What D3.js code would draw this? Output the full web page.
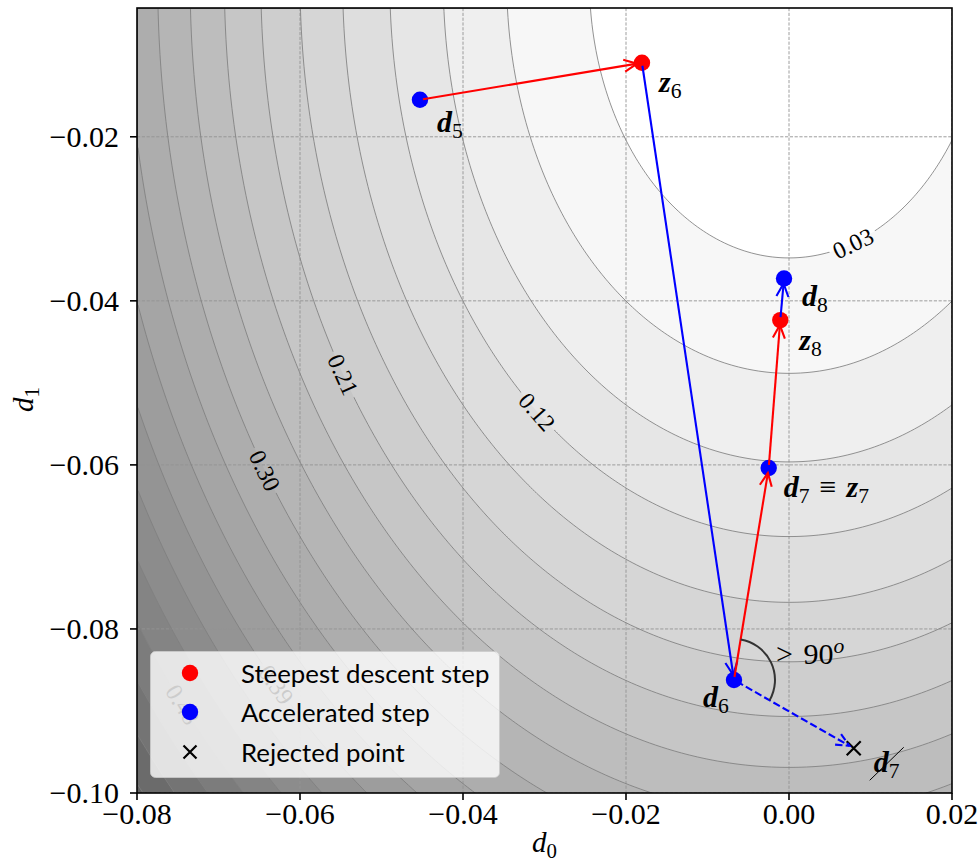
<!DOCTYPE html>
<html><head><meta charset="utf-8">
<script src="https://cdn.jsdelivr.net/npm/d3@7"></script>
<style>body{margin:0;background:#fff}svg{display:block}</style>
</head><body><svg id="chart" width="980" height="864"></svg>
<script>
// ---------------- data ----------------
const xTicks = [-0.08, -0.06, -0.04, -0.02, 0.00, 0.02];
const yTicks = [-0.10, -0.08, -0.06, -0.04, -0.02];
const xDomain = [-0.08, 0.02];
const yDomain = [-0.1, -0.0043];
// objective: f(d) = A*(d0-C0)^2 + B*(d1-C1)^2
const fA = 50, fB = 26, fC0 = 0.0, fC1 = -0.0008;
const levelStep = 0.03;
const levels = d3.range(1, 21).map(k => +(k * levelStep).toFixed(2));
const labelLevels = [0.03, 0.12, 0.21, 0.30, 0.39, 0.48];
const labelD0 = [0.00785, -0.0309, -0.0547, -0.0643, -0.0629, -0.0744];

const pointNames = ["d5", "z6", "d6", "d7", "z8", "d8", "rej"];
const pointD0 = [-0.04528, -0.01804, -0.00675, -0.00249, -0.00107, -0.00061, 0.00794];
const pointD1 = [-0.01549, -0.01098, -0.08622, -0.06037, -0.04235, -0.03728, -0.09455];
const pointKind = ["acc", "sd", "acc", "acc", "sd", "acc", "rej"];
const stepFrom = ["d5", "z6", "d6", "d7", "z8", "d6"];
const stepTo   = ["z6", "d6", "d7", "z8", "d8", "rej"];
const stepKind = ["sd", "acc", "sd", "sd", "acc", "rej"];
const legendLabels = ["Steepest descent step", "Accelerated step", "Rejected point"];

// ---------------- layout ----------------
const L = 137, R = 952, T = 8, B = 793;
const svg = d3.select("#chart");
const x = d3.scaleLinear().domain(xDomain).range([L, R]);
const y = d3.scaleLinear().domain(yDomain).range([B, T]);
const f = (a, b) => fA * (a - fC0) ** 2 + fB * (b - fC1) ** 2;
const serif = "'Liberation Serif', 'DejaVu Serif', serif";
const sans = "Lato, 'Open Sans', sans-serif";
const colors = {sd: "#ff0000", acc: "#0000ff", rej: "#0000ff"};

const defs = svg.append("defs");
defs.append("clipPath").attr("id", "plotclip")
  .append("rect").attr("x", L).attr("y", T).attr("width", R - L).attr("height", B - T);

const plot = svg.append("g").attr("clip-path", "url(#plotclip)");

// filled contours
const cw = 2;
const nx = Math.ceil((R - L) / cw), ny = Math.ceil((B - T) / cw);
const values = new Float64Array(nx * ny);
for (let j = 0; j < ny; j++) for (let i = 0; i < nx; i++) {
  values[j * nx + i] = f(x.invert(L + (i + 0.5) * cw), y.invert(T + (j + 0.5) * cw));
}
const contours = d3.contours().size([nx, ny]).thresholds(levels)(values);
const gpath = d3.geoPath(d3.geoTransform({
  point(px, py) { this.stream.point(L + px * cw, T + py * cw); }
}));
const shade = k => { const v = Math.round(255 - k * 8.2); return `rgb(${v},${v},${v})`; };
plot.append("rect").attr("x", L).attr("y", T).attr("width", R - L).attr("height", B - T).attr("fill", "#fff");
plot.append("g").selectAll("path").data(contours).join("path")
  .attr("d", gpath).attr("fill", (d, i) => shade(i + 1)).attr("stroke", "none");

// grid
const grid = plot.append("g").attr("stroke", "#939393").attr("stroke-width", 0.9).attr("stroke-dasharray", "3.2,1.6");
grid.selectAll(".gx").data(xTicks).join("line").attr("x1", d => x(d)).attr("x2", d => x(d)).attr("y1", T).attr("y2", B);
grid.selectAll(".gy").data(yTicks).join("line").attr("y1", d => y(d)).attr("y2", d => y(d)).attr("x1", L).attr("x2", R);

// contour labels geometry
const labelInfo = labelLevels.map((lv, i) => {
  const d0 = labelD0[i];
  const d1 = fC1 - Math.sqrt(Math.max(0, (lv - fA * (d0 - fC0) ** 2) / fB));
  const px = x(d0), py = y(d1);
  const sx = (x(1) - x(0)), sy = (y(1) - y(0));
  const gx = 2 * fA * (d0 - fC0) / sx, gy = 2 * fB * (d1 - fC1) / sy;
  let ang = Math.atan2(-gx, gy) * 180 / Math.PI;
  if (ang > 90) ang -= 180; if (ang < -90) ang += 180;
  return {lv, px, py, ang};
});
const mask = defs.append("mask").attr("id", "lblmask").attr("maskUnits", "userSpaceOnUse")
  .attr("x", 0).attr("y", 0).attr("width", 980).attr("height", 864);
mask.append("rect").attr("x", 0).attr("y", 0).attr("width", 980).attr("height", 864).attr("fill", "#fff");
mask.selectAll(".m").data(labelInfo).join("rect")
  .attr("x", -25).attr("y", -11).attr("width", 50).attr("height", 22).attr("fill", "#000")
  .attr("transform", d => `translate(${d.px},${d.py}) rotate(${d.ang})`);

plot.append("g").attr("mask", "url(#lblmask)").selectAll("path").data(contours).join("path")
  .attr("d", gpath).attr("fill", "none").attr("stroke", "#808080").attr("stroke-width", 0.85);

plot.append("g").selectAll("text").data(labelInfo).join("text")
  .attr("transform", d => `translate(${d.px},${d.py}) rotate(${d.ang})`)
  .attr("text-anchor", "middle").attr("dy", "0.35em")
  .attr("font-family", serif).attr("font-size", 24).attr("fill", "#000")
  .text(d => d.lv.toFixed(2));

// points
const P = {};
pointNames.forEach((n, i) => P[n] = [x(pointD0[i]), y(pointD1[i])]);
const dots = svg.append("g");
pointNames.forEach((n, i) => {
  if (pointKind[i] === "rej") {
    const [cx, cy] = P[n], s = 7;
    dots.append("path").attr("d", `M${cx - s},${cy - s}L${cx + s},${cy + s}M${cx - s},${cy + s}L${cx + s},${cy - s}`)
      .attr("stroke", "#000").attr("stroke-width", 2.2).attr("fill", "none");
  } else {
    dots.append("circle").attr("cx", P[n][0]).attr("cy", P[n][1]).attr("r", 8.2)
      .attr("fill", colors[pointKind[i]]);
  }
});

// arrows
const arrows = svg.append("g").attr("fill", "none").attr("stroke-width", 2.1);
stepFrom.forEach((a, i) => {
  const p0 = P[a], p1 = P[stepTo[i]], kind = stepKind[i];
  const dx = p1[0] - p0[0], dy = p1[1] - p0[1], len = Math.hypot(dx, dy);
  const ux = dx / len, uy = dy / len, nxv = -uy, nyv = ux;
  const sA = 3, sB = 5, hl = 13, hw = 6;
  const s = [p0[0] + ux * sA, p0[1] + uy * sA], e = [p1[0] - ux * sB, p1[1] - uy * sB];
  const dash = kind === "rej" ? "7.4,3.2" : null;
  arrows.append("line").attr("x1", s[0]).attr("y1", s[1]).attr("x2", e[0]).attr("y2", e[1])
    .attr("stroke", colors[kind]).attr("stroke-dasharray", dash);
  arrows.append("path")
    .attr("d", `M${e[0] - ux * hl + nxv * hw},${e[1] - uy * hl + nyv * hw}L${e[0]},${e[1]}L${e[0] - ux * hl - nxv * hw},${e[1] - uy * hl - nyv * hw}`)
    .attr("stroke", colors[kind]).attr("stroke-dasharray", dash);
});

// angle arc at d6
{
  const c = P.d6, r = 41;
  const a0 = Math.atan2(P.d7[1] - c[1], P.d7[0] - c[0]);
  const a1 = Math.atan2(P.rej[1] - c[1], P.rej[0] - c[0]);
  const arcP = d3.path();
  arcP.arc(c[0], c[1], r, a0, a1, false);
  svg.append("path").attr("d", arcP.toString()).attr("fill", "none").attr("stroke", "#333").attr("stroke-width", 2);
}

// math text helper
function mathText(g, tx, ty, parts, size) {
  const t = g.append("text").attr("x", tx).attr("y", ty).attr("font-family", serif).attr("font-size", size).attr("fill", "#000");
  let shift = 0;
  parts.forEach(p => {
    const sp = t.append("tspan").text(p.t);
    let target = 0, fs = size;
    if (p.sub) { target = size * 0.2; fs = size * 0.72; }
    if (p.sup) { target = -size * 0.38; fs = size * 0.72; }
    sp.attr("font-size", fs).attr("dy", target - shift);
    shift = target;
    if (p.bold) sp.attr("font-weight", "bold");
    if (p.italic) sp.attr("font-style", "italic");
    if (p.dx) sp.attr("dx", p.dx);
  });
  return t;
}
const ann = svg.append("g");
const ms = 30;
const bd = s => ({t: s, bold: true, italic: true});
const sub = s => ({t: s, sub: true});
mathText(ann, P.d5[0] + 17, P.d5[1] + 32, [bd("d"), sub("5")], ms);
mathText(ann, P.z6[0] + 17, P.z6[1] + 29, [bd("z"), sub("6")], ms);
mathText(ann, P.d6[0] - 31, P.d6[1] + 27, [bd("d"), sub("6")], ms);
mathText(ann, P.d7[0] + 15, P.d7[1] + 29, [bd("d"), sub("7"), {t: "\u2009\u2261\u2009", dx: 4}, {t: "z", bold: true, italic: true, dx: 4}, sub("7")], ms);
mathText(ann, P.z8[0] + 19, P.z8[1] + 30, [bd("z"), sub("8")], ms);
mathText(ann, P.d8[0] + 18, P.d8[1] + 27, [bd("d"), sub("8")], ms);
mathText(ann, P.rej[0] + 20, P.rej[1] + 24, [bd("d"), sub("7")], ms);
ann.append("line").attr("x1", P.rej[0] + 16).attr("y1", P.rej[1] + 32).attr("x2", P.rej[0] + 50).attr("y2", P.rej[1] - 1)
  .attr("stroke", "#000").attr("stroke-width", 1);
mathText(ann, P.d6[0] + 42, P.d6[1] - 16, [{t: ">"}, {t: " 90", dx: 3}, {t: "o", sup: true, italic: true}], ms);

// legend
const lg = svg.append("g");
lg.append("rect").attr("x", 150.5).attr("y", 651.5).attr("width", 349).attr("height", 126).attr("rx", 5)
  .attr("fill", "rgba(255,255,255,0.8)").attr("stroke", "rgba(204,204,204,0.8)").attr("stroke-width", 1);
const legY = [673, 712, 752];
const legKinds = ["sd", "acc", "rej"];
legKinds.forEach((k, i) => {
  if (k === "rej") {
    const cx = 190, cy = legY[i], s = 6.5;
    lg.append("path").attr("d", `M${cx - s},${cy - s}L${cx + s},${cy + s}M${cx - s},${cy + s}L${cx + s},${cy - s}`)
      .attr("stroke", "#000").attr("stroke-width", 2.2);
  } else {
    lg.append("circle").attr("cx", 190).attr("cy", legY[i]).attr("r", 8.2).attr("fill", colors[k]);
  }
  lg.append("text").attr("x", 241).attr("y", legY[i] + 10).attr("font-family", sans).attr("font-size", 25.8)
    .attr("fill", "#000").text(legendLabels[i]);
});

// axes frame + ticks
const ax = svg.append("g");
ax.append("rect").attr("x", L).attr("y", T).attr("width", R - L).attr("height", B - T)
  .attr("fill", "none").attr("stroke", "#000").attr("stroke-width", 1.6);
const fmt = v => (v < 0 ? "\u2212" : "") + Math.abs(v).toFixed(2);
xTicks.forEach(v => {
  ax.append("line").attr("x1", x(v)).attr("x2", x(v)).attr("y1", B).attr("y2", B + 7).attr("stroke", "#000").attr("stroke-width", 1.6);
  ax.append("text").attr("x", x(v)).attr("y", B + 31).attr("text-anchor", "middle")
    .attr("font-family", serif).attr("font-size", 30).text(fmt(v));
});
yTicks.forEach(v => {
  ax.append("line").attr("x1", L - 7).attr("x2", L).attr("y1", y(v)).attr("y2", y(v)).attr("stroke", "#000").attr("stroke-width", 1.6);
  ax.append("text").attr("x", L - 18).attr("y", y(v) + 10).attr("text-anchor", "end")
    .attr("font-family", serif).attr("font-size", 30).text(fmt(v));
});
mathText(ax, 532, 852, [{t: "d", italic: true}, sub("0")], 29);
const yl = ax.append("g").attr("transform", "translate(33,412) rotate(-90)");
mathText(yl, 0, 0, [{t: "d", italic: true}, sub("1")], 29);
</script></body></html>
